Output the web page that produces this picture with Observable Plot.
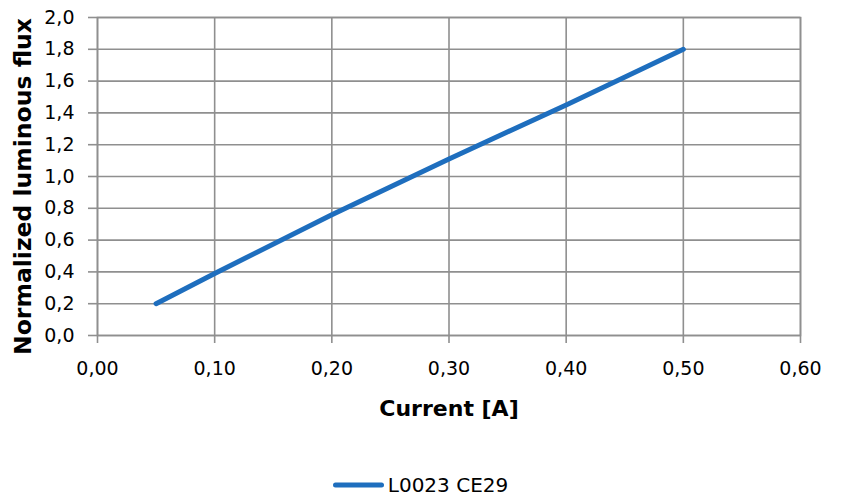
<!DOCTYPE html>
<html>
<head>
<meta charset="utf-8">
<script src="https://cdn.jsdelivr.net/npm/d3@7"></script>
<script src="https://cdn.jsdelivr.net/npm/@observablehq/plot@0.6"></script>
<style>
  body { margin: 0; background: #fff; }
  #chart { width: 841px; }
  .legend { height: 29px; display: flex; align-items: center; justify-content: center;
            font-family: "DejaVu Sans", sans-serif; font-size: 20px; color: #000; }
  .legend svg { margin-right: 4px; }
</style>
</head>
<body>
<div id="chart"></div>
<script>
// Data
const current = [0.05, 0.10, 0.20, 0.30, 0.40, 0.50];
const flux    = [0.20, 0.39, 0.76, 1.11, 1.45, 1.80];
const seriesName = "L0023 CE29";
const xTicks = [0, 0.1, 0.2, 0.3, 0.4, 0.5, 0.6];
const yTicks = [0, 0.2, 0.4, 0.6, 0.8, 1.0, 1.2, 1.4, 1.6, 1.8, 2.0];
const xLabel = "Current [A]";
const yLabel = "Normalized luminous flux";

const data = current.map((c, i) => ({x: c, y: flux[i]}));
const lineColor = "#1e6ebe";
const gridColor = "#8f8f8f";
const fmt = d => d.toFixed(2).replace(".", ",");
const fmtY = d => d.toFixed(1).replace(".", ",");

const chart = Plot.plot({
  width: 841,
  height: 470,
  marginLeft: 97,
  marginRight: 41,
  marginTop: 17,
  marginBottom: 135,
  style: {fontFamily: "DejaVu Sans, sans-serif", fontSize: "19px", color: "#000", background: "#fff"},
  x: {domain: [0, 0.6]},
  y: {domain: [0, 2]},
  marks: [
    Plot.gridX(xTicks, {stroke: gridColor, strokeOpacity: 1, strokeWidth: 1.6}),
    Plot.gridY(yTicks, {stroke: gridColor, strokeOpacity: 1, strokeWidth: 1.6}),
    Plot.frame({stroke: gridColor, strokeWidth: 1.6}),
    Plot.axisX({ticks: xTicks, tickFormat: fmt, tickSize: 8, tickPadding: 18, stroke: gridColor, strokeWidth: 1.6, fill: "#000", fontSize: 19, label: null}),
    Plot.axisY({ticks: yTicks, tickFormat: fmtY, tickSize: 9, tickPadding: 14, stroke: gridColor, strokeWidth: 1.6, fill: "#000", fontSize: 19, label: null}),
    Plot.line(data, {x: "x", y: "y", stroke: lineColor, strokeWidth: 5, strokeLinejoin: "round"}),
    Plot.text([xLabel], {frameAnchor: "bottom", dy: 73, text: d => d, fontSize: 22, fontWeight: "bold", fill: "#000", lineAnchor: "middle", textAnchor: "middle"}),
    Plot.text([yLabel], {frameAnchor: "left", dx: -74, dy: 10, rotate: -90, text: d => d, fontSize: 23.5, fontWeight: "bold", fill: "#000", lineAnchor: "middle", textAnchor: "middle"})
  ]
});
document.getElementById("chart").appendChild(chart);

const legend = document.createElement("div");
legend.className = "legend";
legend.innerHTML = `<svg width="51" height="8"><line x1="2.5" y1="4" x2="48.5" y2="4" stroke="${lineColor}" stroke-width="5" stroke-linecap="round"/></svg><span>${seriesName}</span>`;
document.getElementById("chart").appendChild(legend);
</script>
</body>
</html>
